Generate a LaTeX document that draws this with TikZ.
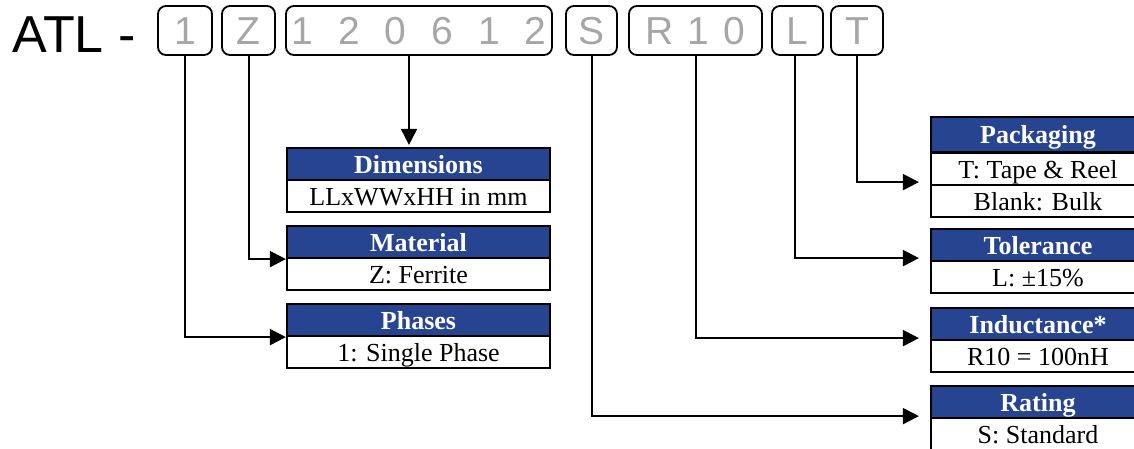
\documentclass[tikz,border=0pt]{standalone}
\usepackage{fontspec}
\setmainfont{Liberation Serif}
\newfontfamily\arialfont{Liberation Sans}
\usetikzlibrary{arrows.meta}
\definecolor{hdrblue}{RGB}{39,68,145}
\definecolor{codegray}{RGB}{166,166,166}
\begin{document}
\begin{tikzpicture}[x=1pt,y=-1pt,
  codebox/.style={draw=black, line width=1.8pt, rounded corners=8pt, inner sep=0pt,
    minimum height=49pt, text=codegray, text height=30pt, text depth=2pt,
    font=\arialfont\fontsize{39}{39}\selectfont},
  cell/.style={draw=black, line width=2.2pt, inner sep=0pt, minimum height=32pt,
    text height=23pt, text depth=4pt, font=\fontsize{26}{26}\selectfont},
  lcell/.style={cell, minimum width=263pt},
  rcell/.style={cell, minimum width=214pt},
  hdr/.style={fill=hdrblue, text=white, font=\bfseries\fontsize{26}{26}\selectfont},
  body/.style={fill=white, text=black},
  conn/.style={line width=2pt, -{Triangle[length=16pt,width=16pt]}},
]
\useasboundingbox (0,0) rectangle (1134,449);

% part number
\node[anchor=base west, inner sep=0pt, font=\arialfont\fontsize{52}{52}\selectfont] (atl) at (12,53) {ATL -};
\node[codebox, minimum width=54pt] (b1) at (185,30.5) {1};
\node[codebox, minimum width=53pt] (bZ) at (248.5,30.5) {Z};
\node[codebox, minimum width=266pt] (bD) at (419,30.5) {\spaceskip=25pt\relax 1 2 0 6 1 2};
\node[codebox, minimum width=51pt] (bS) at (591.5,30.5) {S};
\node[codebox, minimum width=133pt] (bR) at (695.5,30.5) {\spaceskip=14pt\relax R 1 0};
\node[codebox, minimum width=51pt] (bL) at (797.5,30.5) {L};
\node[codebox, minimum width=52pt] (bT) at (857,30.5) {T};

% left boxes
\node[lcell, hdr] (dimh) at (418.5,164) {Dimensions};
\node[lcell, body] (dimb) at (418.5,196) {LLxWWxHH in mm};
\node[lcell, hdr] (math) at (418.5,242) {Material};
\node[lcell, body] (matb) at (418.5,274) {Z: Ferrite};
\node[lcell, hdr] (phh) at (418.5,320) {Phases};
\node[lcell, body] (phb) at (418.5,352) {1: Single Phase};

% right boxes
\node[rcell, hdr, minimum height=35pt] (pkh) at (1038,134.5) {Packaging};
\node[rcell, body] (pk1) at (1038,169) {T: Tape \& Reel};
\node[rcell, body] (pk2) at (1038,201) {Blank: Bulk};
\node[rcell, hdr] (tolh) at (1038,245) {Tolerance};
\node[rcell, body] (tolb) at (1038,277) {L: ±15\%};
\node[rcell, hdr] (indh) at (1038,324) {Inductance*};
\node[rcell, body] (indb) at (1038,356) {R10 = 100nH};
\node[rcell, hdr] (rath) at (1038,402) {Rating};
\node[rcell, body] (ratb) at (1038,434) {S: Standard};

% connectors
\draw[conn] (b1.south) |- (phh.south west);
\draw[conn] (bZ.south) |- (math.south west);
\draw[conn] ([xshift=-10pt]bD.south) -- ([xshift=-9.5pt,yshift=2pt]dimh.north);
\draw[conn] (bS.south) |- ([xshift=-11pt,yshift=3pt]rath.south west);
\draw[conn] (bR.south) |- ([xshift=-11pt,yshift=3pt]indh.south west);
\draw[conn] ([xshift=-2.5pt]bL.south) |- ([xshift=-11pt,yshift=4pt]tolh.south west);
\draw[conn] (bT.south) |- ([xshift=-11pt,yshift=4pt]pk1.south west);
\end{tikzpicture}
\end{document}
